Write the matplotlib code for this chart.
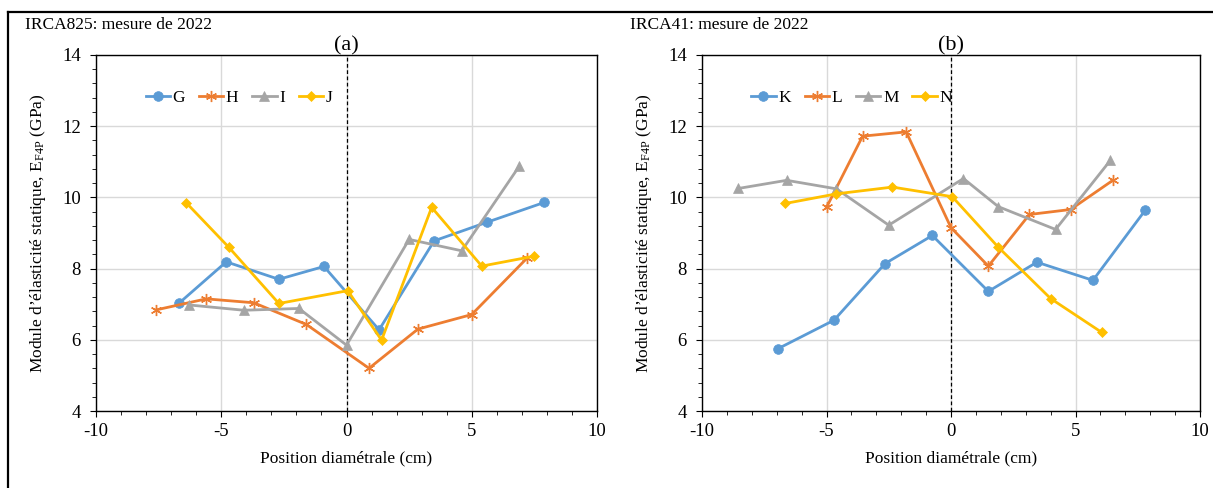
import matplotlib
matplotlib.use("Agg")
import matplotlib.pyplot as plt
from matplotlib.lines import Line2D
from matplotlib.ticker import MultipleLocator

plt.rcParams['font.family'] = ['Liberation Serif', 'DejaVu Serif']
plt.rcParams['mathtext.fontset'] = 'custom'
plt.rcParams['mathtext.rm'] = 'Liberation Serif'
plt.rcParams['mathtext.it'] = 'Liberation Serif:italic'
plt.rcParams['axes.unicode_minus'] = False

# panel (a): IRCA825
g_x = [-6.7, -4.8, -2.7, -0.9, 1.3, 3.5, 5.6, 7.9]
g_y = [7.02, 8.19, 7.70, 8.06, 6.28, 8.78, 9.30, 9.86]
h_x = [-7.6, -5.6, -3.7, -1.6, 0.9, 2.85, 5.0, 7.2]
h_y = [6.84, 7.15, 7.04, 6.43, 5.20, 6.30, 6.71, 8.29]
i_x = [-6.3, -4.1, -1.9, 0.0, 2.5, 4.6, 6.9]
i_y = [6.98, 6.83, 6.88, 5.85, 8.82, 8.50, 10.88]
j_x = [-6.4, -4.7, -2.7, 0.05, 1.4, 3.4, 5.4, 7.5]
j_y = [9.85, 8.60, 7.02, 7.38, 5.99, 9.72, 8.07, 8.35]

# panel (b): IRCA41
k_x = [-6.95, -4.7, -2.65, -0.75, 1.5, 3.45, 5.7, 7.8]
k_y = [5.75, 6.55, 8.14, 8.93, 7.36, 8.18, 7.67, 9.64]
l_x = [-5.0, -3.55, -1.8, 0.0, 1.5, 3.15, 4.8, 6.5]
l_y = [9.72, 11.72, 11.84, 9.15, 8.07, 9.52, 9.66, 10.48]
m_x = [-8.55, -6.6, -4.6, -2.5, 0.5, 1.9, 4.2, 6.4]
m_y = [10.25, 10.48, 10.24, 9.22, 10.53, 9.74, 9.10, 11.04]
n_x = [-6.65, -4.6, -2.35, 0.05, 1.9, 4.0, 6.05]
n_y = [9.83, 10.10, 10.29, 10.02, 8.60, 7.16, 6.21]

blue, orange, gray, gold = '#5B9BD5', '#ED7D31', '#A5A5A5', '#FFC000'
star = (6, 2, 0)


def draw_panel(ax, series, tag):
    for x, y, name, col, mk, ms in series:
        ax.plot(x, y, color=col, lw=2.0, marker=mk, markersize=ms,
                markerfacecolor=col, markeredgecolor=col,
                markeredgewidth=1.0 if mk == star else 0.5, label=name)
    ax.axvline(0, color='black', lw=0.9, ls=(0, (3, 2)), zorder=1)
    ax.set_xlim(-10, 10)
    ax.set_ylim(4, 14)
    ax.xaxis.set_major_locator(MultipleLocator(5))
    ax.xaxis.set_minor_locator(MultipleLocator(1))
    ax.yaxis.set_major_locator(MultipleLocator(2))
    ax.yaxis.set_minor_locator(MultipleLocator(0.4))
    ax.grid(True, which='major', color='#D9D9D9', lw=1.0, zorder=0)
    ax.set_axisbelow(True)
    ax.tick_params(which='both', direction='out', labelsize=13.5, color='black')
    ax.tick_params(axis='y', which='major', length=4, pad=7)
    ax.tick_params(axis='x', which='major', length=4, pad=5)
    ax.tick_params(which='minor', length=3)
    for s in ax.spines.values():
        s.set_color('black')
        s.set_linewidth(1.0)
    ax.set_xlabel('Position diamétrale (cm)', fontsize=12.5)
    ax.set_ylabel('Module d’élasticité statique, E$_{\\mathrm{F4P}}$ (GPa)', fontsize=12.5)
    ax.set_title(tag, fontsize=16, pad=2)
    ax.legend(loc='center left', bbox_to_anchor=(0.085, 0.88), ncol=4, frameon=False,
              fontsize=12.5, handlelength=1.4, handletextpad=0.15, columnspacing=0.8,
              borderaxespad=0)


fig = plt.figure(figsize=(12.13, 4.88), dpi=100)
ax1 = fig.add_axes([96 / 1213, 1 - 411 / 488, 501 / 1213, 356 / 488])
ax2 = fig.add_axes([702 / 1213, 1 - 411 / 488, 498 / 1213, 356 / 488])

draw_panel(ax1, [(g_x, g_y, 'G', blue, 'o', 7), (h_x, h_y, 'H', orange, star, 8),
                 (i_x, i_y, 'I', gray, '^', 7), (j_x, j_y, 'J', gold, 'D', 5.5)], '(a)')
draw_panel(ax2, [(k_x, k_y, 'K', blue, 'o', 7), (l_x, l_y, 'L', orange, star, 8),
                 (m_x, m_y, 'M', gray, '^', 7), (n_x, n_y, 'N', gold, 'D', 5.5)], '(b)')

ax1.yaxis.set_label_coords(-0.096, 0.5)
ax2.yaxis.set_label_coords(-0.096, 0.5)
ax1.xaxis.set_label_coords(0.5, -0.11)
ax2.xaxis.set_label_coords(0.5, -0.11)

fig.text(25 / 1213, 1 - 25 / 488, 'IRCA825: mesure de 2022', fontsize=12.5, va='center')
fig.text(630 / 1213, 1 - 25 / 488, 'IRCA41: mesure de 2022', fontsize=12.5, va='center')

# outer frame (left and top edges)
fig.add_artist(Line2D([8 / 1213, 8 / 1213], [0, 1 - 12 / 488], color='black', lw=1.6,
                      transform=fig.transFigure))
fig.add_artist(Line2D([8 / 1213, 1], [1 - 12 / 488, 1 - 12 / 488], color='black', lw=1.6,
                      transform=fig.transFigure))

fig.savefig('out.png', dpi=100)
